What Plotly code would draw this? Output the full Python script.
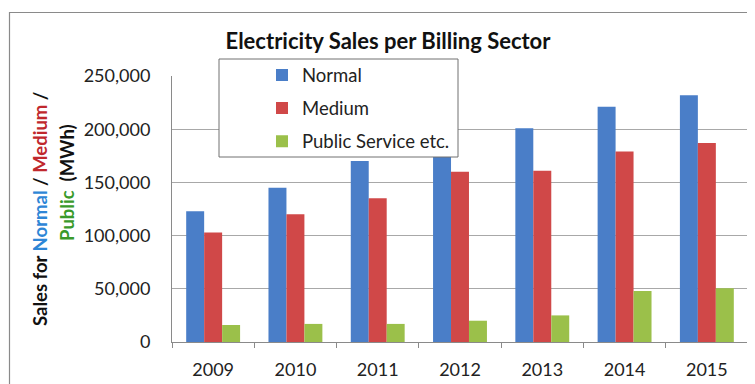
import plotly.graph_objects as go

years = ["2009", "2010", "2011", "2012", "2013", "2014", "2015"]
normal = [123000, 145000, 170000, 181000, 201000, 221000, 232000]
medium = [103000, 120000, 135000, 160000, 161000, 179000, 187000]
public = [16000, 17000, 17000, 20000, 25000, 48000, 50500]
series_names = ["Normal", "Medium", "Public Service etc."]
y_ticks = [0, 50000, 100000, 150000, 200000, 250000]
y_tick_labels = ["0", "50,000", "100,000", "150,000", "200,000", "250,000"]

colors = ["#4A7EC8", "#D04848", "#9BC04A"]
FONT = "Lato"

fig = go.Figure()
for i, (name, vals) in enumerate(zip(series_names, [normal, medium, public])):
    fig.add_trace(go.Bar(x=years, y=vals, name=name, marker_color=colors[i],
                         marker_line_width=0, legendgroup=f"g{i}"))

OFF = 8  # page body margin
W, H = 755 - OFF, 384 - OFF
L, T = 172 - OFF, 76 - OFF
R = W - (748 - OFF)
B = H - (342 - OFF)
pw, ph = W - L - R, H - T - B


def px(x):  # reference pixel x -> paper
    return (x - OFF - L) / pw


def py(y):  # reference pixel y -> paper
    return (H - B - (y - OFF)) / ph


fig.update_layout(
    width=W, height=H,
    margin=dict(l=L, r=R, t=T, b=B, autoexpand=False),
    paper_bgcolor="white", plot_bgcolor="white",
    barmode="group", bargap=0.345, bargroupgap=0,
    font=dict(family=FONT, size=17, color="#222222"),
    title=dict(text="<b>Electricity Sales per Billing Sector</b>",
               x=(388 - OFF) / W, xref="container", xanchor="center",
               y=1 - (41 - OFF) / H, yref="container", yanchor="middle",
               font=dict(family=FONT, size=22, color="#111111")),
    showlegend=True,
    legend=dict(x=px(262), y=py(56.5), xanchor="left", yanchor="top",
                bgcolor="rgba(0,0,0,0)", borderwidth=0,
                font=dict(family=FONT, size=18.5, color="#222222"),
                traceorder="grouped", tracegroupgap=6),
    xaxis=dict(showline=True, linecolor="#8a8a8a", linewidth=1, automargin=False,
               ticks="outside", tickson="boundaries", ticklen=5, tickcolor="#8a8a8a",
               showgrid=False, tickfont=dict(size=18), ticklabelstandoff=11),
    yaxis=dict(range=[0, 250000], tickvals=y_ticks, ticktext=y_tick_labels,
               showline=True, linecolor="#8a8a8a", linewidth=1, automargin=False,
               showgrid=True, gridcolor="#a8a8a8", gridwidth=1,
               zeroline=False, ticks="", ticklabelstandoff=17,
               tickfont=dict(size=18)),
    shapes=[
        dict(type="rect", xref="paper", yref="paper",
             x0=px(219), x1=px(458), y0=py(157), y1=py(59),
             fillcolor="white", line=dict(color="#707070", width=1), layer="above"),
        dict(type="rect", xref="paper", yref="paper",
             x0=px(9.5), x1=px(770), y0=py(400), y1=py(12.5),
             fillcolor="rgba(0,0,0,0)", line=dict(color="#8a8a8a", width=1.2), layer="above"),
    ],
    annotations=[
        dict(text="<b>Sales for <span style='color:#2E86D6'>Normal</span> / "
                  "<span style='color:#C0282D'>Medium</span> /</b>",
             textangle=-90, xref="paper", yref="paper", x=px(40), y=py(209),
             xanchor="center", yanchor="middle", showarrow=False,
             font=dict(family=FONT, size=18.5, color="#111111")),
        dict(text="<b><span style='color:#3A9A2A'>Public</span>  (MWh)</b>",
             textangle=-90, xref="paper", yref="paper", x=px(67), y=py(183),
             xanchor="center", yanchor="middle", showarrow=False,
             font=dict(family=FONT, size=18.5, color="#111111")),
    ],
)

fig.write_html("out.html")
